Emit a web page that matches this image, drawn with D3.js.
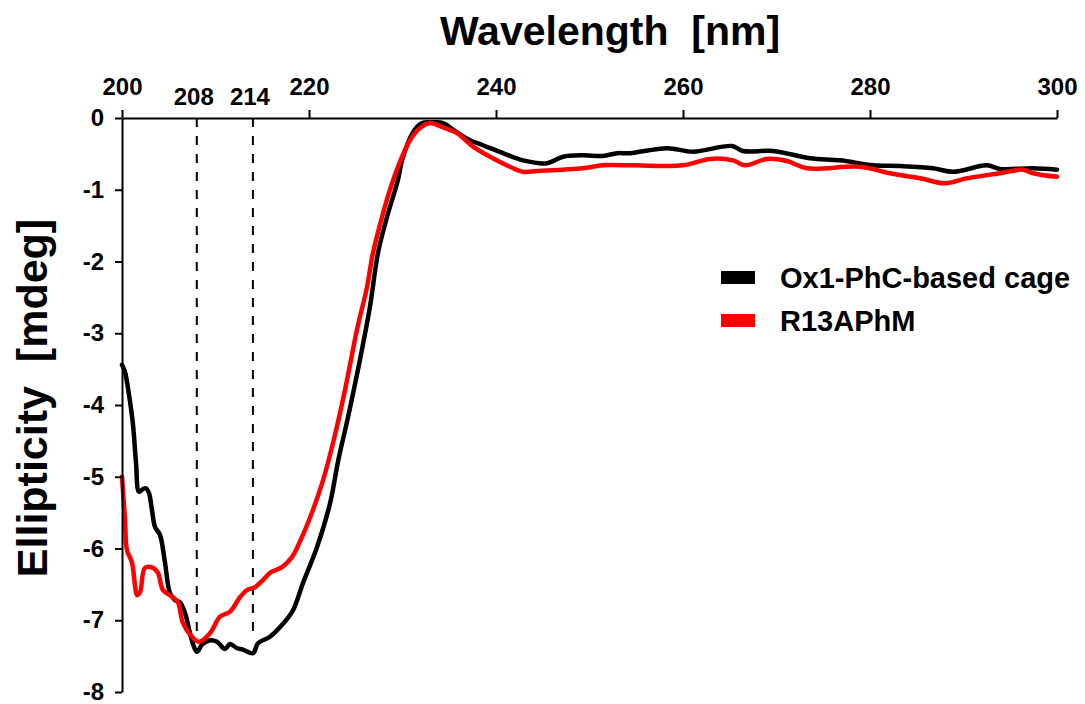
<!DOCTYPE html>
<html>
<head>
<meta charset="utf-8">
<script src="https://cdn.jsdelivr.net/npm/d3@7"></script>
<style>
  body { margin: 0; background: #fff; }
  svg { font-family: "Liberation Sans", Arial, sans-serif; font-weight: bold; }
  .title { white-space: pre; }
</style>
</head>
<body>
<div class="canvas"></div>
<script>
/* CD spectra: wavelength (nm) vs ellipticity (mdeg) */

var seriesNames = ["Ox1-PhC-based cage", "R13APhM"];
var seriesColors = ["#000000", "#ff0000"];

var xTicks = [200, 220, 240, 260, 280, 300];
var markerTicks = [208, 214];
var yTicks = [-8, -7, -6, -5, -4, -3, -2, -1, 0];

// Ox1-PhC-based cage
var cageNm = [200.0, 200.32, 200.75, 201.18, 201.5, 201.82, 202.25, 202.57, 202.89, 203.2,
  203.53, 204.06, 204.6, 205.13, 205.67, 206.2, 206.74, 207.27, 207.7, 208.02,
  208.56, 209.41, 210.16, 211.02, 211.55, 212.3, 212.94, 214.01, 214.55, 215.83,
  217.22, 218.29, 219.36, 220.86, 222.25, 223.1, 224.17, 225.45, 226.52, 227.38,
  228.34, 229.52, 229.95, 231.12, 232.09, 233.26, 234.33, 235.83, 237.22, 238.61,
  240.75, 242.89, 245.45, 247.17, 249.3, 251.44, 252.94, 254.33, 258.29, 261.07,
  265.24, 266.42, 269.63, 273.58, 276.79, 280.32, 283.21, 286.74, 288.88, 292.51,
  293.9, 297.43, 300.0];
var cageMdeg = [-3.44, -3.54, -3.86, -4.28, -4.81, -5.21, -5.17, -5.16, -5.23, -5.46,
  -5.70, -5.81, -6.20, -6.62, -6.72, -6.75, -6.90, -7.18, -7.37, -7.44,
  -7.34, -7.28, -7.30, -7.40, -7.33, -7.39, -7.41, -7.46, -7.32, -7.23,
  -7.05, -6.86, -6.48, -5.98, -5.37, -4.79, -4.17, -3.37, -2.63, -1.88,
  -1.38, -0.86, -0.59, -0.20, -0.07, -0.06, -0.07, -0.20, -0.31, -0.38,
  -0.49, -0.59, -0.63, -0.54, -0.52, -0.53, -0.49, -0.49, -0.42, -0.47,
  -0.39, -0.46, -0.46, -0.56, -0.59, -0.66, -0.67, -0.70, -0.75, -0.66,
  -0.71, -0.70, -0.72];

// R13APhM
var mutNm = [200.0, 200.32, 200.53, 201.07, 201.39, 201.6, 201.93, 202.46, 203.32, 203.85,
  204.39, 205.45, 205.99, 206.52, 207.49, 208.24, 209.41, 210.48, 211.55, 212.62,
  213.37, 214.22, 215.08, 215.83, 217.11, 218.18, 219.25, 220.43, 221.5, 222.57,
  223.85, 225.13, 226.2, 226.84, 227.81, 228.66, 229.52, 230.8, 231.87, 232.94,
  234.33, 235.83, 237.54, 239.36, 241.5, 242.89, 244.39, 247.17, 249.3, 251.44,
  254.65, 260.0, 262.89, 265.35, 266.63, 268.98, 271.12, 273.26, 278.93, 282.14,
  285.35, 288.02, 290.37, 293.9, 296.36, 297.43, 300.0];
var mutMdeg = [-5.00, -5.60, -6.02, -6.20, -6.51, -6.65, -6.61, -6.27, -6.27, -6.34,
  -6.58, -6.68, -6.75, -7.04, -7.23, -7.30, -7.18, -6.95, -6.88, -6.68,
  -6.58, -6.54, -6.44, -6.34, -6.26, -6.12, -5.84, -5.46, -5.05, -4.53,
  -3.79, -2.95, -2.36, -1.88, -1.38, -1.00, -0.68, -0.31, -0.14, -0.07,
  -0.13, -0.21, -0.40, -0.54, -0.68, -0.75, -0.74, -0.72, -0.70, -0.66,
  -0.66, -0.66, -0.57, -0.59, -0.66, -0.57, -0.60, -0.70, -0.68, -0.77,
  -0.84, -0.91, -0.84, -0.77, -0.72, -0.77, -0.82];

var markerEnd = [-7.2, -7.25];

/* canvas */
var W = 1085, H = 704;
var margin = {t:118, r:28, b:12, l:122};
var width = W - margin.l - margin.r,
    height = H - margin.t - margin.b;

var svg = d3.select('.canvas')
    .append('svg')
    .attr('width', W)
    .attr('height', H);

var canvas = svg.append('g')
    .attr('transform', 'translate(' + margin.l + ',' + margin.t + ')');

var x = d3.scaleLinear().domain([200, 300]).range([0, width]);
var y = d3.scaleLinear().domain([-8, 0]).range([height, 0]);

var series = [
    {name: seriesNames[0], color: seriesColors[0], pts: d3.zip(cageNm, cageMdeg)},
    {name: seriesNames[1], color: seriesColors[1], pts: d3.zip(mutNm, mutMdeg)}
];

// dashed markers at 208 / 214
canvas.selectAll('.marker')
    .data(markerTicks)
    .enter()
    .append('line')
    .attr('class', 'marker')
    .attr('x1', function(d){ return x(d); })
    .attr('x2', function(d){ return x(d); })
    .attr('y1', y(0))
    .attr('y2', function(d, i){ return y(markerEnd[i]); })
    .style('stroke', '#000')
    .style('stroke-width', 2)
    .style('stroke-dasharray', '9,9');

var line = d3.line()
    .curve(d3.curveCatmullRom.alpha(0.5))
    .x(function(d){ return x(d[0]); })
    .y(function(d){ return y(d[1]); });

canvas.selectAll('.series')
    .data(series)
    .enter()
    .append('path')
    .attr('class', 'series')
    .attr('d', function(d){ return line(d.pts); })
    .style('fill', 'none')
    .style('stroke', function(d){ return d.color; })
    .style('stroke-width', 4.5)
    .style('stroke-linejoin', 'round')
    .style('stroke-linecap', 'round');

// axes
var xAxis = d3.axisTop(x)
    .tickValues(xTicks)
    .tickSize(8)
    .tickSizeOuter(0)
    .tickPadding(15);

var gx = canvas.append('g').call(xAxis);
gx.selectAll('text').style('font-size', '24px').style('font-family', 'inherit').style('fill', '#000');

var yAxis = d3.axisLeft(y)
    .tickValues(yTicks)
    .tickSize(7)
    .tickSizeOuter(0)
    .tickPadding(11)
    .tickFormat(function(d){ return String(d); });

var gy = canvas.append('g').call(yAxis);
gy.selectAll('text').style('font-size', '24px').style('font-family', 'inherit').style('fill', '#000');

canvas.selectAll('.domain, .tick line')
    .style('stroke', '#000')
    .style('stroke-width', 2);

canvas.selectAll('.mlabel')
    .data(markerTicks)
    .enter()
    .append('text')
    .attr('class', 'mlabel')
    .attr('x', function(d){ return x(d) - 3; })
    .attr('y', -13)
    .attr('text-anchor', 'middle')
    .style('font-size', '24px')
    .text(function(d){ return d; });

// titles
svg.append('text')
    .attr('class', 'title')
    .attr('x', 610)
    .attr('y', 45)
    .attr('text-anchor', 'middle')
    .style('font-size', '41px')
    .text('Wavelength  [nm]');

svg.append('text')
    .attr('class', 'title')
    .attr('transform', 'translate(47,398) rotate(-90)')
    .attr('text-anchor', 'middle')
    .style('font-size', '43px')
    .text('Ellipticity  [mdeg]');

// legend
var legend = svg.append('g')
    .attr('transform', 'translate(721,271)');

var item = legend.selectAll('g')
    .data(series)
    .enter()
    .append('g')
    .attr('transform', function(d, i){ return 'translate(0,' + (i * 43) + ')'; });

item.append('rect')
    .attr('width', 34)
    .attr('height', 13)
    .style('fill', function(d){ return d.color; });

item.append('text')
    .attr('x', 59)
    .attr('y', 6.5)
    .attr('dy', '0.36em')
    .style('font-size', '29px')
    .text(function(d){ return d.name; });
</script>
</body>
</html>
